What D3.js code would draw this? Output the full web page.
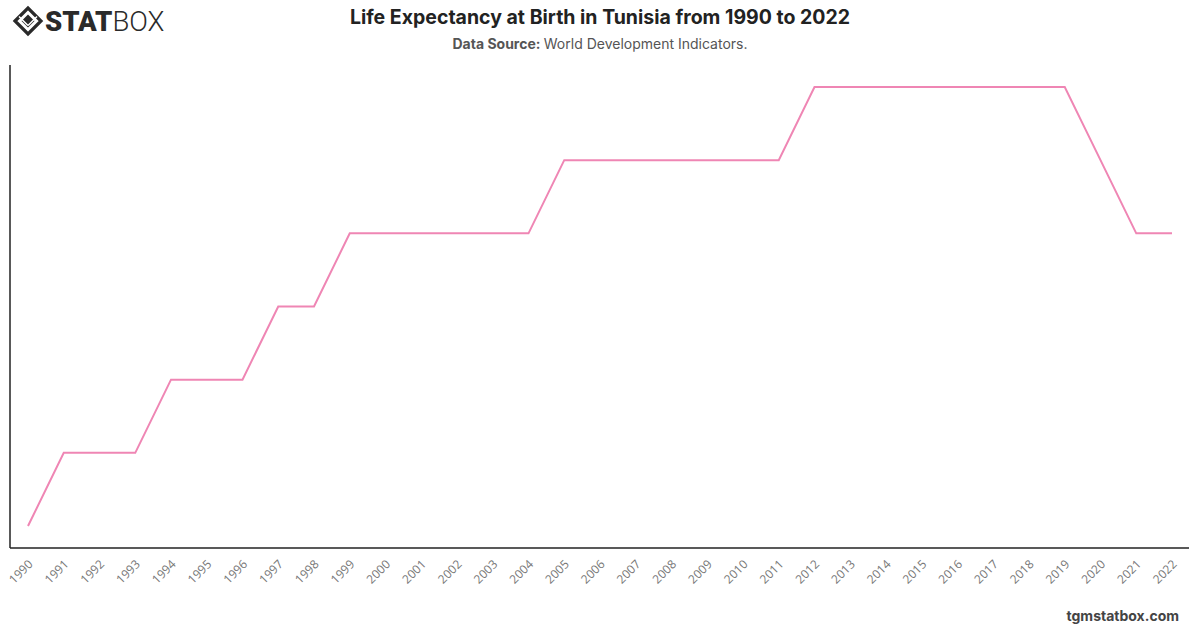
<!DOCTYPE html>
<html><head><meta charset="utf-8">
<script src="https://cdn.jsdelivr.net/npm/d3@7"></script>
<style>body{margin:0;background:#fff;font-family:Inter,"Noto Sans",sans-serif;}</style>
</head><body>
<svg id="c" width="1200" height="628"></svg>
<script>
const years = d3.range(1990, 2023).map(String);
const values = [70,71,71,71,72,72,72,73,73,74,74,74,74,74,74,75,75,75,75,75,75,75,76,76,76,76,76,76,76,76,75,74,74];

const svg = d3.select("#c");
const W = 1200, H = 628;
const m = {left: 10, right: 11, top: 65, bottom: 80};

const x = d3.scalePoint().domain(years).range([28, 1172]);
const y = d3.scaleLinear().domain([69.7, 76.3]).range([H - m.bottom, m.top]);

// axes
svg.append("line").attr("x1", m.left).attr("x2", m.left).attr("y1", m.top).attr("y2", H - m.bottom)
  .attr("stroke", "#222").attr("stroke-width", 1.5);
svg.append("line").attr("x1", m.left).attr("x2", W - m.right).attr("y1", H - m.bottom).attr("y2", H - m.bottom)
  .attr("stroke", "#222").attr("stroke-width", 1.5);

const xa = svg.append("g").attr("transform", `translate(0,${H - m.bottom})`)
  .call(d3.axisBottom(x).tickSize(0).tickPadding(0));
xa.select(".domain").remove();
xa.selectAll("text")
  .attr("font-family", "'Open Sans', Inter, sans-serif")
  .attr("font-size", 12).attr("fill", "#777")
  .attr("text-anchor", "end")
  .attr("dy", 0)
  .attr("transform", "translate(5,17) rotate(-45)");

// line
svg.append("path").datum(values)
  .attr("fill", "none").attr("stroke", "#ef86b4").attr("stroke-width", 2)
  .attr("d", d3.line().x((d, i) => x(years[i])).y(d => y(d)));

// title
svg.append("text").attr("x", 600).attr("y", 24).attr("text-anchor", "middle")
  .attr("font-size", 19.5).attr("font-weight", 700).attr("fill", "#222").text("Life Expectancy at Birth in Tunisia from 1990 to 2022");
const st = svg.append("text").attr("x", 600).attr("y", 49).attr("text-anchor", "middle")
  .attr("font-size", 14).attr("fill", "#555");
st.append("tspan").attr("font-weight", 700).text("Data Source: ");
st.append("tspan").text("World Development Indicators.");

// footer
svg.append("text").attr("x", 1179).attr("y", 621).attr("text-anchor", "end")
  .attr("font-size", 14).attr("font-weight", 700).attr("fill", "#444").text("tgmstatbox.com");

// logo
const lg = svg.append("g").attr("transform", "translate(15,21)");
lg.append("path").attr("d", "M0,0 L13,-13 L26,0 L13,13 Z").attr("fill", "none").attr("stroke", "#2a2a2a").attr("stroke-width", 3.2);
lg.append("path").attr("d", "M6.5,0 L13,-6.5 L19.5,0 L13,6.5 Z").attr("fill", "#2a2a2a");
lg.append("path").attr("d", "M4,-4.5 L13,4.5 M13,4.5 L22,-4.5").attr("stroke", "#fff").attr("stroke-width", 1.5);
const lt = lg.append("text").attr("x", 30).attr("y", 10).attr("font-size", 27.5).attr("fill", "#2a2a2a")
  .attr("font-family", "Roboto, Inter, sans-serif");
lt.append("tspan").attr("font-weight", 900).text("STAT");
lt.append("tspan").attr("font-weight", 300).text("BOX");
</script>
</body></html>
